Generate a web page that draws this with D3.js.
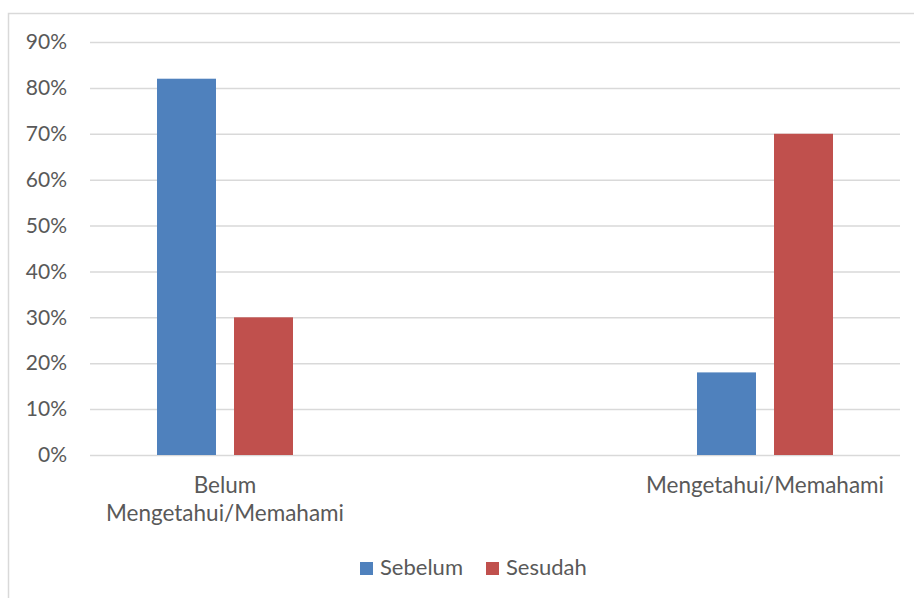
<!DOCTYPE html>
<html>
<head>
<meta charset="utf-8">
<script src="https://cdn.jsdelivr.net/npm/d3@7"></script>
<style>
  body { margin: 0; background: #fff; }
  text { font-family: Lato, "Open Sans", sans-serif; fill: #595959; }
</style>
</head>
<body>
<div id="chart"></div>
<script>
const categories = [["Belum", "Mengetahui/Memahami"], ["Mengetahui/Memahami"]];
const categoryKeys = ["Belum Mengetahui/Memahami", "Mengetahui/Memahami"];
const seriesNames = ["Sebelum", "Sesudah"];
const sebelum = [0.82, 0.18];
const sesudah = [0.30, 0.70];
const yTicks = [0, 0.1, 0.2, 0.3, 0.4, 0.5, 0.6, 0.7, 0.8, 0.9];
const colors = ["#4f81bd", "#c0504d"];

const width = 914, height = 598;
const plot = { left: 90, right: 900, top: 42, bottom: 455 };

const svg = d3.select("#chart")
    .append("svg")
    .attr("width", width)
    .attr("height", height);

// chart frame, cut off on the right and bottom like the source
svg.append("rect")
    .attr("x", 8.5)
    .attr("y", 13.5)
    .attr("width", 920)
    .attr("height", 600)
    .attr("fill", "none")
    .attr("stroke", "#d9d9d9")
    .attr("stroke-width", 1.5);

const x = d3.scalePoint()
    .domain(categoryKeys)
    .range([plot.left, plot.right])
    .padding(0.25);

const x1 = d3.scaleBand()
    .domain(seriesNames)
    .range([-68, 68])
    .paddingInner(0.234);

const y = d3.scaleLinear()
    .domain([0, 0.9])
    .range([plot.bottom, plot.top]);

const yAxis = svg.append("g")
    .attr("transform", `translate(${plot.left},0)`)
    .call(d3.axisLeft(y)
        .tickValues(yTicks)
        .tickFormat(d3.format(".0%"))
        .tickSize(-(plot.right - plot.left))
        .tickPadding(23));

yAxis.select(".domain").remove();
yAxis.selectAll(".tick line")
    .attr("stroke", "#d9d9d9")
    .attr("stroke-width", 1.5);
yAxis.selectAll(".tick text")
    .style("font-size", "21px")
    .attr("fill", "#595959");

const values = [sebelum, sesudah];

seriesNames.forEach((name, s) => {
    svg.append("g")
        .selectAll("rect")
        .data(values[s])
        .join("rect")
        .attr("x", (d, i) => x(categoryKeys[i]) + x1(name))
        .attr("y", d => y(d))
        .attr("width", x1.bandwidth())
        .attr("height", d => y(0) - y(d))
        .attr("fill", colors[s]);
});

// category labels
categories.forEach((lines, i) => {
    const t = svg.append("text")
        .attr("text-anchor", "middle")
        .style("font-size", "22.5px");
    lines.forEach((line, j) => {
        t.append("tspan")
            .attr("x", x(categoryKeys[i]))
            .attr("y", 493 + j * 28)
            .text(line);
    });
});

// legend
const legend = svg.append("g");
const legendX = [360, 486];
seriesNames.forEach((name, s) => {
    legend.append("rect")
        .attr("x", legendX[s])
        .attr("y", 562)
        .attr("width", 13)
        .attr("height", 13)
        .attr("fill", colors[s]);
    legend.append("text")
        .attr("x", legendX[s] + 20)
        .attr("y", 575)
        .style("font-size", "22px")
        .text(name);
});
</script>
</body>
</html>
